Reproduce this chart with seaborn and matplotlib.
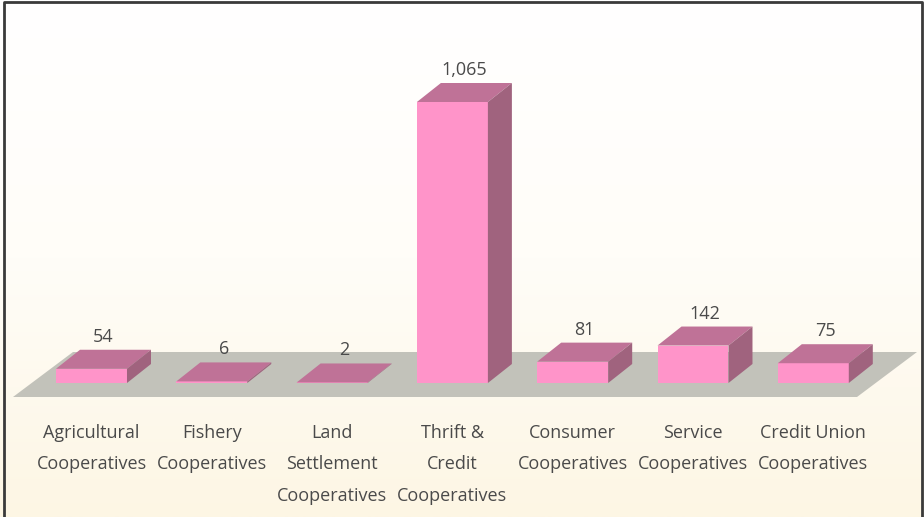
import numpy as np
import pandas as pd
import matplotlib
matplotlib.use("Agg")
import matplotlib.pyplot as plt
import seaborn as sns
from matplotlib.patches import Polygon
from matplotlib.colors import LinearSegmentedColormap

sns.set_style("white")
plt.rcParams["font.family"] = ["Open Sans", "DejaVu Sans"]

categories = ["Agricultural\nCooperatives", "Fishery\nCooperatives", "Land\nSettlement\nCooperatives",
              "Thrift &\nCredit\nCooperatives", "Consumer\nCooperatives", "Service\nCooperatives",
              "Credit Union\nCooperatives"]
values = [54, 6, 2, 1065, 81, 142, 75]
value_labels = ["54", "6", "2", "1,065", "81", "142", "75"]

data = pd.DataFrame({"category": categories, "value": values})

front_col = "#FF94C9"
top_col = "#BF7297"
side_col = "#A0637E"
floor_col = "#C2C2BA"
text_col = "#4a4a4a"

W, H = 924, 517
fig = plt.figure(figsize=(W / 100, H / 100), dpi=100)

# background gradient
bg = fig.add_axes([0, 0, 1, 1], zorder=0)
grad = np.linspace(0, 1, 256).reshape(-1, 1)
cmap = LinearSegmentedColormap.from_list("bg", ["#FFFFFF", "#FFFDF8", "#FDF6E4"])
bg.imshow(grad, aspect="auto", cmap=cmap, extent=[0, 1, 0, 1], origin="upper")
bg.set_axis_off()
# border
bg.plot([4 / W, 4 / W, 922 / W, 922 / W], [0, 1 - 2 / H, 1 - 2 / H, 0], color="#3a3a3a", lw=2,
        transform=bg.transAxes, clip_on=False)
bg.set_xlim(0, 1)
bg.set_ylim(0, 1)

# main axes mapped to pixel layout
px_cat = 120.3
ppu = 281 / 1065.0
x0_px = 91.5 - 0.5 * px_cat
x1_px = 91.5 + 6.5 * px_cat
ylo, yhi = -100, 1300
ytop_px = 383 - yhi * ppu
ybot_px = 383 - ylo * ppu
ax = fig.add_axes([x0_px / W, (H - ybot_px) / H, (x1_px - x0_px) / W, (ybot_px - ytop_px) / H], zorder=1)
ax.patch.set_alpha(0)

sns.barplot(data=data, x="category", y="value", color=front_col, width=0.59, saturation=1,
            edgecolor="none", ax=ax, zorder=3)
ax.set_xlim(-0.5, 6.5)
ax.set_ylim(ylo, yhi)

# depth offsets in data units
dx = 24 / px_cat
dy = 19 / ppu

# floor
fdx = 60 / px_cat
fdy = 45 / ppu
f_front_y = -14 / ppu
f_x0 = (13 - 91.5) / px_cat
f_x1 = (857 - 91.5) / px_cat
floor = Polygon([(f_x0, f_front_y), (f_x1, f_front_y), (f_x1 + fdx, f_front_y + fdy), (f_x0 + fdx, f_front_y + fdy)],
                closed=True, facecolor=floor_col, edgecolor="none", zorder=1, clip_on=False)
ax.add_patch(floor)

for bar, lab in zip(ax.patches[:len(values)], value_labels):
    x = bar.get_x()
    w = bar.get_width()
    h = bar.get_height()
    top = Polygon([(x, h), (x + w, h), (x + w + dx, h + dy), (x + dx, h + dy)], closed=True,
                  facecolor=top_col, edgecolor="none", zorder=4, clip_on=False)
    side = Polygon([(x + w, 0), (x + w + dx, dy), (x + w + dx, h + dy), (x + w, h)], closed=True,
                   facecolor=side_col, edgecolor="none", zorder=4, clip_on=False)
    ax.add_patch(top)
    ax.add_patch(side)
    ax.text(x + w / 2 + dx / 2, h + dy + 13 / ppu, lab, ha="center", va="center",
            fontsize=13, color=text_col)

ax.set_xlabel("")
ax.set_ylabel("")
ax.set_yticks([])
ax.tick_params(axis="x", length=0, pad=10.5, labelsize=13, labelcolor=text_col)
for t in ax.get_xticklabels():
    t.set_linespacing(1.95)
for s in ax.spines.values():
    s.set_visible(False)

fig.savefig("out.png", dpi=100)
